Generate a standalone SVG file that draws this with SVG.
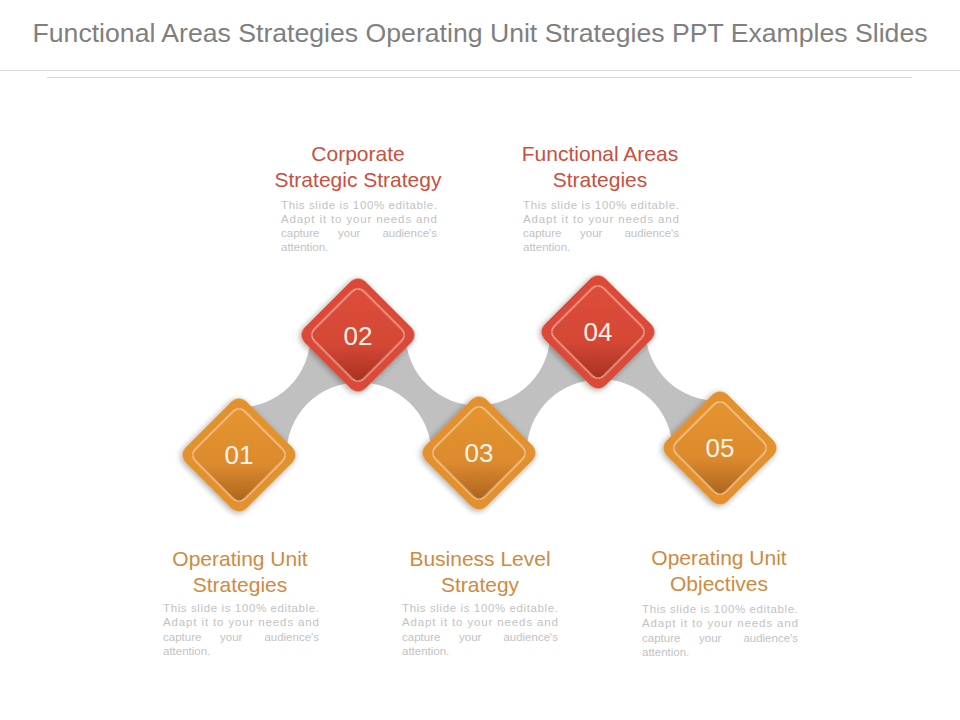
<svg xmlns="http://www.w3.org/2000/svg" width="960" height="720" viewBox="0 0 960 720">
<defs>
<style>
.title{font-family:"Liberation Sans",Arial,sans-serif;font-size:26px;fill:#7f7f7f}
.hr{font-family:"Liberation Sans",Arial,sans-serif;font-size:21px;fill:#c8503e;text-anchor:middle}
.ho{font-family:"Liberation Sans",Arial,sans-serif;font-size:21px;fill:#cf8a40;text-anchor:middle}
.body{font-family:"Liberation Sans",Arial,sans-serif;font-size:11.5px;fill:#c2c2c2}
.m{text-anchor:middle}
.e{text-anchor:end}
.num{font-family:"Liberation Sans",Arial,sans-serif;font-size:26px;fill:#fff4e8;text-anchor:middle}
.conn{fill:#c0c0c0}
.oo{fill:#e3902f}
.ro{fill:#db4a39}
.oi{fill:url(#gO);stroke:#fde3bf;stroke-width:1}
.ri{fill:url(#gR);stroke:#f7cbbd;stroke-width:1}
</style>
<linearGradient id="gO" x1="0" y1="0" x2="1" y2="1">
<stop offset="0" stop-color="#e5952f"/>
<stop offset="0.6" stop-color="#dc8a2f"/>
<stop offset="1" stop-color="#a9611c"/>
</linearGradient>
<linearGradient id="gR" x1="0" y1="0" x2="1" y2="1">
<stop offset="0" stop-color="#dd4e3b"/>
<stop offset="0.6" stop-color="#d44735"/>
<stop offset="1" stop-color="#a3301f"/>
</linearGradient>
<filter id="sh" x="-30%" y="-30%" width="160%" height="160%">
<feDropShadow dx="0" dy="2" stdDeviation="3" flood-color="#000" flood-opacity="0.35"/>
</filter>
<path id="neck" d="M-52,-34.7 A72,72 0 0 0 52,-34.7 L52,34.7 A72,72 0 0 0 -52,34.7 Z"/>
</defs>
<rect width="960" height="720" fill="#ffffff"/>
<text class="title" x="480" y="42" text-anchor="middle" textLength="895" lengthAdjust="spacingAndGlyphs">Functional Areas Strategies Operating Unit Strategies PPT Examples Slides</text>
<line x1="0" y1="70.5" x2="960" y2="70.5" stroke="#d9d9d9" stroke-width="1"/>
<line x1="47" y1="77.5" x2="912" y2="77.5" stroke="#d9d9d9" stroke-width="1"/>

<g id="connectors">
<use href="#neck" class="conn" transform="translate(298.5,395) rotate(-45.2)"/>
<use href="#neck" class="conn" transform="translate(418.5,394) rotate(44.3)"/>
<use href="#neck" class="conn" transform="translate(538.5,392.5) rotate(-45.5)"/>
<use href="#neck" class="conn" transform="translate(659,390) rotate(43.6)"/>
</g>

<g id="node01">
<g transform="translate(239,455) rotate(45)" filter="url(#sh)">
<rect class="oo" x="-43" y="-43" width="86" height="86" rx="10"/>
<rect class="oi" x="-35" y="-35" width="70" height="70" rx="8"/>
</g>
<text class="num" x="239" y="464">01</text>
<text class="ho" x="240" y="566">Operating Unit</text>
<text class="ho" x="240" y="592">Strategies</text>
<text class="body" x="163" y="612" textLength="156" lengthAdjust="spacing">This slide is 100% editable.</text>
<text class="body" x="163" y="626" textLength="156" lengthAdjust="spacing">Adapt it to your needs and</text>
<text class="body" x="163" y="641">capture</text><text class="body" x="220" y="641">your</text><text class="body e" x="319" y="641">audience's</text>
<text class="body" x="163" y="655">attention.</text>
</g>

<g id="node02">
<g transform="translate(358,335) rotate(45)" filter="url(#sh)">
<rect class="ro" x="-43" y="-43" width="86" height="86" rx="10"/>
<rect class="ri" x="-35" y="-35" width="70" height="70" rx="8"/>
</g>
<text class="num" x="358" y="345">02</text>
<text class="hr" x="358" y="161">Corporate</text>
<text class="hr" x="358" y="187">Strategic Strategy</text>
<text class="body" x="281" y="209" textLength="156" lengthAdjust="spacing">This slide is 100% editable.</text>
<text class="body" x="281" y="223" textLength="156" lengthAdjust="spacing">Adapt it to your needs and</text>
<text class="body" x="281" y="237">capture</text><text class="body" x="338" y="237">your</text><text class="body e" x="437" y="237">audience's</text>
<text class="body" x="281" y="251">attention.</text>
</g>

<g id="node03">
<g transform="translate(479,453) rotate(45)" filter="url(#sh)">
<rect class="oo" x="-43" y="-43" width="86" height="86" rx="10"/>
<rect class="oi" x="-35" y="-35" width="70" height="70" rx="8"/>
</g>
<text class="num" x="479" y="462">03</text>
<text class="ho" x="480" y="566">Business Level</text>
<text class="ho" x="480" y="592">Strategy</text>
<text class="body" x="402" y="612" textLength="156" lengthAdjust="spacing">This slide is 100% editable.</text>
<text class="body" x="402" y="626" textLength="156" lengthAdjust="spacing">Adapt it to your needs and</text>
<text class="body" x="402" y="641">capture</text><text class="body" x="459" y="641">your</text><text class="body e" x="558" y="641">audience's</text>
<text class="body" x="402" y="655">attention.</text>
</g>

<g id="node04">
<g transform="translate(598,332) rotate(45)" filter="url(#sh)">
<rect class="ro" x="-43" y="-43" width="86" height="86" rx="10"/>
<rect class="ri" x="-35" y="-35" width="70" height="70" rx="8"/>
</g>
<text class="num" x="598" y="341">04</text>
<text class="hr" x="600" y="161">Functional Areas</text>
<text class="hr" x="600" y="187">Strategies</text>
<text class="body" x="523" y="209" textLength="156" lengthAdjust="spacing">This slide is 100% editable.</text>
<text class="body" x="523" y="223" textLength="156" lengthAdjust="spacing">Adapt it to your needs and</text>
<text class="body" x="523" y="237">capture</text><text class="body" x="580" y="237">your</text><text class="body e" x="679" y="237">audience's</text>
<text class="body" x="523" y="251">attention.</text>
</g>

<g id="node05">
<g transform="translate(720,448) rotate(45)" filter="url(#sh)">
<rect class="oo" x="-43" y="-43" width="86" height="86" rx="10"/>
<rect class="oi" x="-35" y="-35" width="70" height="70" rx="8"/>
</g>
<text class="num" x="720" y="457">05</text>
<text class="ho" x="719" y="565">Operating Unit</text>
<text class="ho" x="719" y="591">Objectives</text>
<text class="body" x="642" y="613" textLength="156" lengthAdjust="spacing">This slide is 100% editable.</text>
<text class="body" x="642" y="627" textLength="156" lengthAdjust="spacing">Adapt it to your needs and</text>
<text class="body" x="642" y="642">capture</text><text class="body" x="699" y="642">your</text><text class="body e" x="798" y="642">audience's</text>
<text class="body" x="642" y="656">attention.</text>
</g>
</svg>
